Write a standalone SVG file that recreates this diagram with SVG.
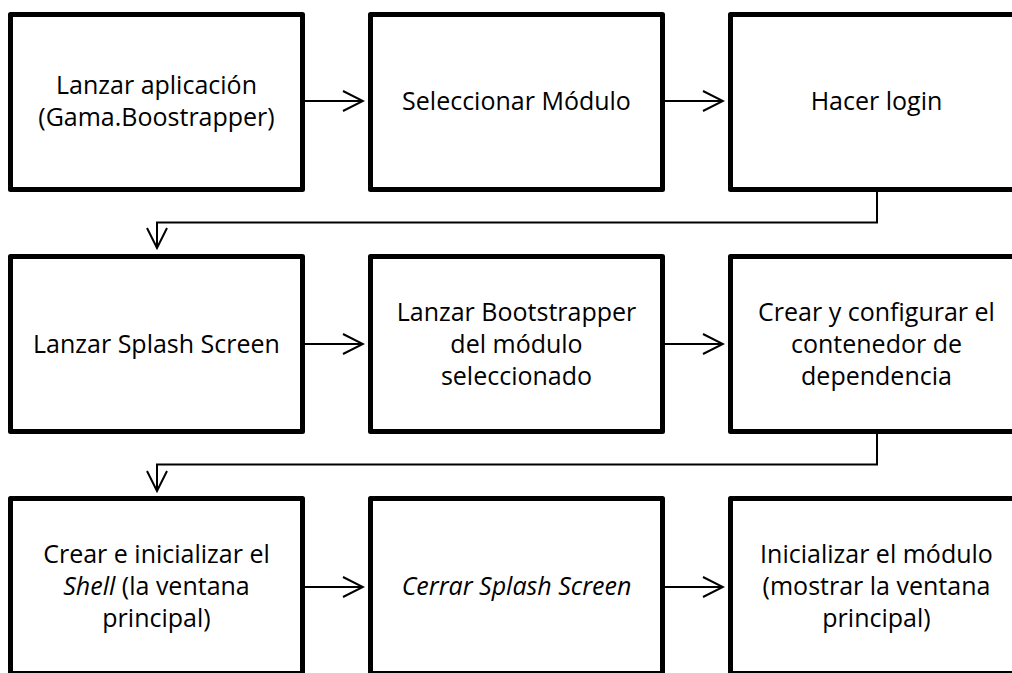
<svg xmlns="http://www.w3.org/2000/svg" width="1012" height="673" viewBox="0 0 1012 673">
<style>
.box{fill:#fff;stroke:#000;stroke-width:5;stroke-linejoin:round}
.t{font-family:"Open Sans","Liberation Sans",sans-serif;font-size:25px;fill:#000;text-anchor:middle}
.c{fill:none;stroke:#000;stroke-width:2}
</style>
<defs>
<marker id="arr" markerUnits="userSpaceOnUse" viewBox="-22 -12 24 24" markerWidth="24" markerHeight="24" refX="0" refY="0" orient="auto">
<path d="M-20,-10 L0,0 L-20,10" fill="none" stroke="#000" stroke-width="2"/>
</marker>
</defs>
<rect width="1012" height="673" fill="#fff"/>
<g id="connectors">
<line class="c" x1="305" y1="101" x2="363" y2="101" marker-end="url(#arr)"/>
<line class="c" x1="665" y1="101" x2="723" y2="101" marker-end="url(#arr)"/>
<path class="c" d="M877,192 V222.5 H157 V248" marker-end="url(#arr)"/>
<line class="c" x1="305" y1="344" x2="363" y2="344" marker-end="url(#arr)"/>
<line class="c" x1="665" y1="344" x2="723" y2="344" marker-end="url(#arr)"/>
<path class="c" d="M877,434 V464.5 H157 V491" marker-end="url(#arr)"/>
<line class="c" x1="305" y1="587" x2="363" y2="587" marker-end="url(#arr)"/>
<line class="c" x1="665" y1="587" x2="723" y2="587" marker-end="url(#arr)"/>
</g>
<g id="n1"><rect class="box" x="10.5" y="14.5" width="292" height="175"/>
<text class="t" x="156.5" y="94">Lanzar aplicación</text><text class="t" x="156.5" y="126">(Gama.Boostrapper)</text></g>
<g id="n2"><rect class="box" x="370.5" y="14.5" width="292" height="175"/>
<text class="t" x="516.5" y="110">Seleccionar Módulo</text></g>
<g id="n3"><rect class="box" x="730.5" y="14.5" width="292" height="175"/>
<text class="t" x="876.5" y="110">Hacer login</text></g>
<g id="n4"><rect class="box" x="10.5" y="256.5" width="292" height="175"/>
<text class="t" x="156.5" y="353">Lanzar Splash Screen</text></g>
<g id="n5"><rect class="box" x="370.5" y="256.5" width="292" height="175"/>
<text class="t" x="516.5" y="321">Lanzar Bootstrapper</text><text class="t" x="516.5" y="353">del módulo</text><text class="t" x="516.5" y="385">seleccionado</text></g>
<g id="n6"><rect class="box" x="730.5" y="256.5" width="292" height="175"/>
<text class="t" x="876.5" y="321">Crear y configurar el</text><text class="t" x="876.5" y="353">contenedor de</text><text class="t" x="876.5" y="385">dependencia</text></g>
<g id="n7"><rect class="box" x="10.5" y="498.5" width="292" height="175"/>
<text class="t" x="156.5" y="563">Crear e inicializar el</text><text class="t" x="156.5" y="595"><tspan font-style="italic">Shell</tspan> (la ventana</text><text class="t" x="156.5" y="627">principal)</text></g>
<g id="n8"><rect class="box" x="370.5" y="498.5" width="292" height="175"/>
<text class="t" x="516.5" y="595" font-style="italic">Cerrar Splash Screen</text></g>
<g id="n9"><rect class="box" x="730.5" y="498.5" width="292" height="175"/>
<text class="t" x="876.5" y="563">Inicializar el módulo</text><text class="t" x="876.5" y="595">(mostrar la ventana</text><text class="t" x="876.5" y="627">principal)</text></g>
</svg>
